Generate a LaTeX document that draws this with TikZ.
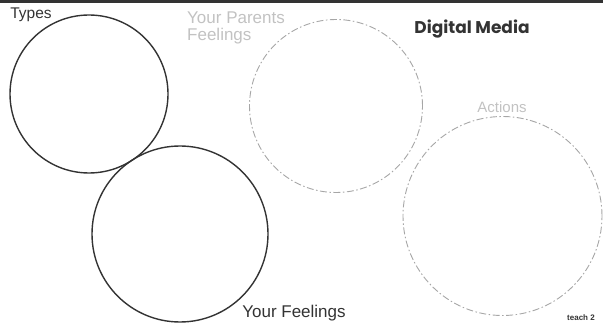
\documentclass[tikz,border=0pt]{standalone}
\usepackage{fontspec}
\setmainfont{Liberation Sans}
\newfontfamily\dmfont{Poppins}
\usetikzlibrary{shapes.geometric}
\definecolor{ink}{HTML}{333333}
\definecolor{faint}{HTML}{A6A6A6}
\definecolor{pale}{HTML}{C2C2C2}

\begin{document}
\begin{tikzpicture}[x=1pt, y=-1pt, inner sep=0pt]
\tikzstyle{ring}=[draw=ink, line width=1.4pt, circle]
\tikzstyle{dashring}=[draw=faint, line width=0.9pt, circle, dash pattern=on 7pt off 2.5pt on 1.5pt off 2.5pt]
\tikzstyle{lbl}=[text=ink, font=\fontsize{17}{17}\selectfont]
\useasboundingbox (0,0) rectangle (603,326);
\fill[ink] (0,0) rectangle (603,3);
% circles
\node[ring, minimum size=158pt] (types) at (89,94) {};
\node[ring, minimum size=176pt] (feel) at (180,234) {};
\node[dashring, minimum size=173pt] (parents) at (336,106) {};
\node[dashring, minimum size=199pt] (actions) at (502.5,216) {};
% labels
\node[lbl, font=\fontsize{15.5}{17}\selectfont] (typestxt) at (31,15) {Types};
\node[lbl, text=pale, align=left, anchor=north west] (parentstxt) at (187,12) {Your Parents\\Feelings};
\node[text=ink, font=\dmfont\bfseries\fontsize{17}{19}\selectfont] (dmtxt) at (472,29) {Digital Media};
\node[lbl, text=pale, font=\fontsize{15}{17}\selectfont] (actionstxt) at (502,107) {Actions};
\node[lbl, anchor=base] (feeltxt) at (294,317) {Your Feelings};
\node[text=ink, font=\bfseries\fontsize{8}{9}\selectfont, anchor=base] (teachtxt) at (581,320) {teach 2};
\end{tikzpicture}
\end{document}
